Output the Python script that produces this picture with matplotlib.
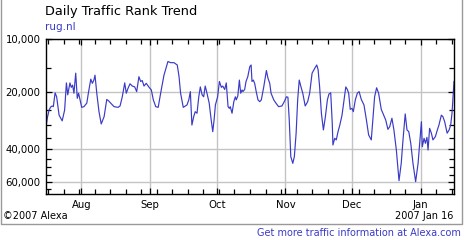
import matplotlib
matplotlib.use("Agg")
import matplotlib.pyplot as plt
import matplotlib.dates as mdates
import matplotlib.ticker as mticker
import numpy as np
import pandas as pd

# Dados: dias desde 2006-07-16 e posição no ranking diário
start_date = "2006-07-16"
end_date = "2007-01-16"
days = [0, 0.6, 1.4, 2.1, 2.8, 3.3, 4.1, 4.8, 5.9, 7.3, 8.4, 9.2, 9.8, 10.8, 11.4, 12.0,
        12.6, 13.4, 14.1, 14.7, 15.3, 16.1, 17.1, 18.4, 19.1, 20.2, 20.9, 21.6, 22.1, 22.9,
        23.9, 24.9, 26.2, 27.4, 28.1, 29.2, 30.7, 32.5, 33.4, 34.4, 35.5, 36.2, 37.0, 37.9,
        38.9, 40.0, 40.9, 41.9, 42.7, 43.4, 44.2, 45.2, 46.5, 47.5, 48.4, 49.5, 50.6, 51.7,
        53.2, 55.0, 56.2, 57.7, 59.2, 60.0, 60.7, 61.9,
        63.6, 64.4, 65.1, 65.8, 66.6, 67.3, 68.1, 68.9, 69.6, 70.4, 71.1, 71.8, 72.6, 73.6,
        74.5, 75.2, 75.8, 76.4, 77.4, 78.2, 79.1, 79.7, 80.6, 81.3, 82.1, 82.7, 83.1, 83.9,
        84.7, 85.4, 85.8, 86.5, 87.2, 87.8, 88.4, 88.8, 89.6, 90.2, 91.0, 91.9, 92.5, 92.9,
        93.5, 94.1, 94.8, 95.6, 96.4, 97.1, 98.2, 99.4, 100.1, 100.9, 101.5, 102.7, 103.7,
        104.9, 106.4, 107.7, 108.4, 109.1, 109.7, 110.4, 111.3, 112.0, 112.8, 113.5, 114.2,
        115.0, 115.8, 116.9, 118.0, 118.9, 120.0, 121.2, 122.1,
        122.7, 123.4, 124.2, 125.1, 126.0, 126.9, 127.6, 128.4, 129.1, 129.4, 130.2, 130.9,
        131.7, 132.5, 133.5, 134.4, 135.2, 135.9, 136.5, 137.2, 138.0, 138.6, 139.5, 140.4,
        141.2, 142.2, 143.4, 144.5, 145.5, 146.7, 147.5, 148.2, 149.1, 150.0, 151.2, 152.3,
        153.2, 154.2, 155.0, 156.0, 156.9, 158.0, 159.2, 160.2, 161.0, 162.0, 162.8, 163.6,
        164.5, 165.5, 166.7, 167.8, 168.5, 169.3, 169.7, 170.5, 171.1, 171.8, 172.3, 173.0,
        173.8, 174.5, 175.6, 176.5, 177.2, 178.3, 179.0, 179.8, 180.9, 181.8, 182.5, 183.1,
        183.7, 184.0]
ranks = [30500, 27400, 24900, 24000, 23700, 23900, 20200, 21200, 26500, 28400, 24900, 17900,
         20700, 17900, 18900, 18400, 20300, 15900, 21600, 20300, 21900, 24100, 23900, 22900,
         20300, 17100, 18000, 17300, 16300, 20300, 25400, 29500, 27000, 21900, 22200, 22900,
         23900, 24100, 23700, 21200, 17900, 20300, 19100, 18100, 18600, 18800, 19900, 16600,
         17600, 17400, 18600, 18000, 18900, 19500, 22000, 23900, 24100, 20300, 16300, 13800,
         14000, 14000, 14400, 16600, 20300, 24100,
         23400, 22000, 19900, 29900, 27000, 25400, 25900, 21200, 18800, 20700, 21200, 18600,
         20300, 22900, 28100, 32400, 28100, 23400, 21200, 17600, 18900, 18600, 19400, 17900,
         23900, 24400, 23900, 25900, 22500, 21200, 22000, 21000, 17300, 20300, 19500, 19900,
         19400, 17600, 16600, 14700, 14400, 17600, 17300, 18000, 19900, 22000, 22500, 22000,
         18800, 15400, 16900, 18000, 20300, 22000, 22900, 23900, 23700, 22200, 21200, 21300,
         28100, 43900, 47600, 43900, 33000, 22000, 17300, 18800, 20300, 23700, 22500, 20300,
         15900, 15000, 14400,
         15200, 18800, 25900, 31700, 27000, 22000, 20500, 20200, 29300, 38100, 35100, 35800,
         32400, 29900, 26500, 22000, 18800, 19400, 20300, 24700, 24400, 25400, 22000, 20300,
         19900, 21900, 23400, 28100, 33700, 35800, 27000, 21200, 19000, 20300, 24700, 26500,
         28100, 31500, 30500, 27500, 31700, 40500, 58800, 47600, 35800, 26100, 31700, 32400,
         37300, 47600, 59500, 47600, 37300, 28700, 38900, 35100, 37300, 34700, 40500, 31100,
         33000, 35800, 34400, 31700, 29900, 26500, 27000, 28700, 33000, 31700, 29900, 25900,
         19900, 17600]

ytick_vals = [10500, 20000, 40000, 60000]
ytick_labels = ["10,000", "20,000", "40,000", "60,000"]
yminor_vals = [15000, 25000, 30000, 35000, 45000, 50000, 55000, 65000]

azul = "#3a3ac8"
cinza = "#c4c4c4"

dates = pd.Timestamp(start_date) + pd.to_timedelta(np.array(days), unit="D")

fig = plt.figure(figsize=(4.68, 2.40), dpi=100)
fig.patch.set_facecolor("white")
ax = fig.add_axes([46 / 468, 1 - 194 / 240, 408 / 468, 155 / 240])

ax.plot(dates, ranks, color=azul, lw=0.85)

# Eixo Y logarítmico invertido
ax.set_yscale("log")
ax.set_ylim(69100, 10500)
ax.yaxis.set_major_locator(mticker.FixedLocator(ytick_vals))
ax.yaxis.set_major_formatter(mticker.FixedFormatter(ytick_labels))
ax.yaxis.set_minor_locator(mticker.FixedLocator(yminor_vals))
ax.yaxis.set_minor_formatter(mticker.NullFormatter())

# Eixo X com datas
ax.set_xlim(pd.Timestamp(start_date), pd.Timestamp(end_date))
ax.xaxis.set_major_locator(mdates.MonthLocator())
ax.xaxis.set_major_formatter(mdates.DateFormatter("%b"))
ax.xaxis.set_minor_locator(mdates.WeekdayLocator(byweekday=mdates.MO))

ax.tick_params(which="both", direction="in", top=True, right=True,
               labelsize=7.3, pad=4, width=0.9, color="black")
ax.tick_params(which="major", length=4.5)
ax.tick_params(which="minor", length=3.5)

ax.grid(True, which="major", color=cinza, lw=1)
for spine in ax.spines.values():
    spine.set_linewidth(1)

# Textos
fig.text(45 / 468, 1 - 12 / 240, "Daily Traffic Rank Trend", fontsize=9.3,
         va="center", ha="left")
fig.text(45 / 468, 1 - 27 / 240, "rug.nl", fontsize=7.5, color=azul,
         va="center", ha="left")
fig.text(3 / 468, 1 - 216 / 240, "\u00a92007 Alexa", fontsize=7, va="center", ha="left")
fig.text(453 / 468, 1 - 216 / 240, "2007 Jan 16", fontsize=7, va="center", ha="right")
fig.text(461 / 468, 1 - 233 / 240, "Get more traffic information at Alexa.com",
         fontsize=7, color=azul, va="center", ha="right")

# Moldura cinza (esquerda, direita e base)
x0, x1 = 0.5 / 468, 462 / 468
yb = 1 - 224 / 240
fig.add_artist(plt.Line2D([x0, x0, x1, x1], [1, yb, yb, 1],
                          transform=fig.transFigure, color="#999999", lw=1))

fig.savefig("out.png", dpi=100)
